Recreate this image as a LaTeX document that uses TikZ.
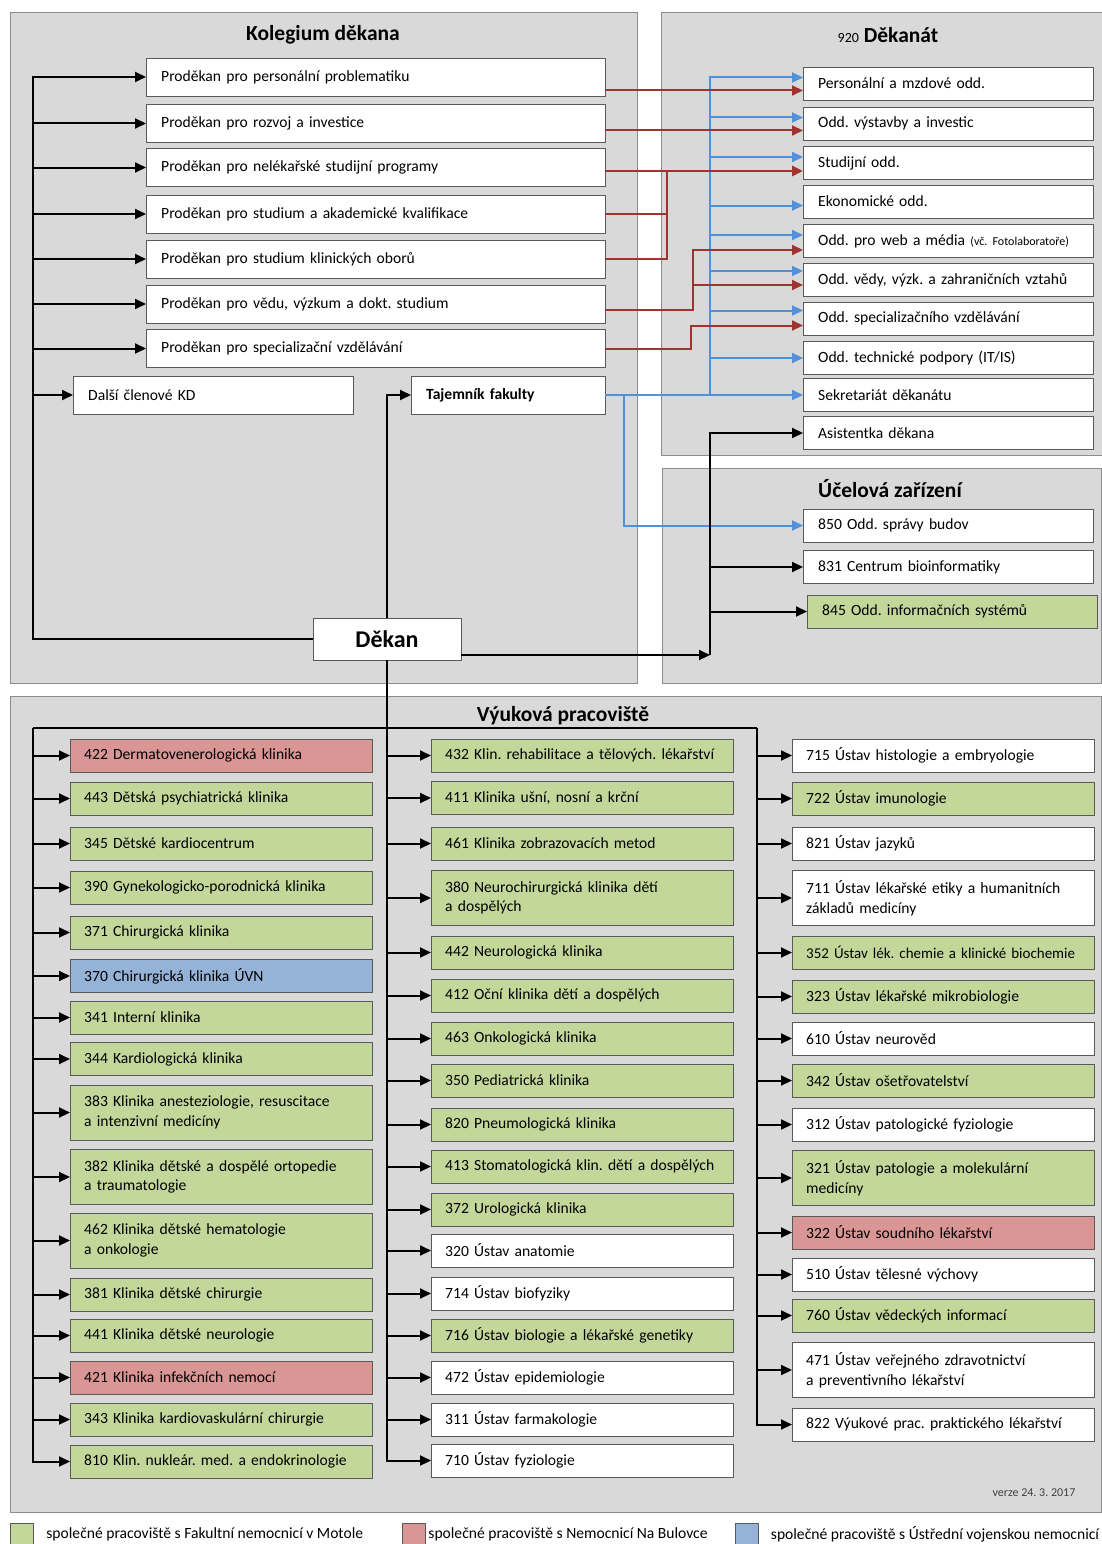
\documentclass[tikz,border=0pt]{standalone}
\usepackage{fontspec}
\setmainfont{Carlito}
\frenchspacing
\usetikzlibrary{arrows.meta,positioning,calc}
\definecolor{panelgray}{HTML}{D9D9D9}
\definecolor{panelline}{HTML}{8C8C8C}
\definecolor{boxline}{HTML}{595959}
\definecolor{motol}{HTML}{C4D79B}
\definecolor{bulovka}{HTML}{DA9694}
\definecolor{uvn}{HTML}{95B3D7}
\definecolor{redlink}{HTML}{9E3330}
\definecolor{bluelink}{HTML}{5390DB}
\tikzset{
  panel/.style={draw=panelline, fill=panelgray, line width=0.8pt},
  paneltitle/.style={font=\fontsize{21.5}{25}\selectfont\bfseries},
  leadbox/.style={
    draw=boxline,
    fill=white,
    anchor=west,
    minimum height=38pt,
    text width=429pt,
    inner xsep=15pt,
    align=left,
    font=\fontsize{15.6}{18}\selectfont
  },
  officebox/.style={
    draw=boxline,
    fill=white,
    anchor=west,
    minimum height=33pt,
    text width=260pt,
    inner xsep=15pt,
    align=left,
    font=\fontsize{15.6}{18}\selectfont
  },
  unitbox/.style={
    draw=boxline,
    fill=white,
    anchor=west,
    minimum height=33pt,
    text width=274pt,
    inner xsep=14pt,
    align=left,
    font=\fontsize{15.6}{19.5}\selectfont
  },
  twoline/.style={minimum height=55pt},
  deanbox/.style={
    draw=boxline,
    fill=white,
    minimum width=148pt,
    minimum height=42pt,
    font=\fontsize{24}{27}\selectfont\bfseries
  },
  legendkey/.style={draw=boxline, minimum width=23pt, minimum height=23pt, inner sep=0pt},
  legendtext/.style={inner xsep=0pt, anchor=west, font=\fontsize{15.6}{18}\selectfont},
  busline/.style={line width=2pt, draw=black},
  flowarrow/.style={-{Triangle[length=11pt,width=10pt]}, line width=2pt, draw=black},
  redline/.style={line width=2pt, draw=redlink},
  redarrow/.style={-{Triangle[length=11pt,width=10pt]}, line width=2pt, draw=redlink},
  bluearrow/.style={-{Triangle[length=11pt,width=10pt]}, line width=2pt, draw=bluelink}
}

\begin{document}
\begin{tikzpicture}[x=1pt, y=-1pt]
\useasboundingbox (0,0) rectangle (1102,1544);
\fill[white] (0,0) rectangle (1102,1544);

% panels
\draw[panel] (10,12) rectangle (637,683);
\draw[panel] (661,12) rectangle (1112,455);
\draw[panel] (662,468) rectangle (1101,683);
\draw[panel] (10,696) rectangle (1101,1512);
\node[paneltitle] (kolegium) at (323,35) {Kolegium děkana};
\node[paneltitle] (dekanat) at (888,35) {{\fontsize{14}{16}\selectfont\mdseries 920} Děkanát};
\node[paneltitle] (ucelova) at (890,489) {Účelová zařízení};
\node[paneltitle] (vyukova) at (563,716) {Výuková pracoviště};

% kolegium
\node[leadbox] (personal) at (146,77) {Proděkan pro personální problematiku};
\node[leadbox] (rozvoj) at (146,123.5) {Proděkan pro rozvoj a investice};
\node[leadbox] (nelek) at (146,167.5) {Proděkan pro nelékařské studijní programy};
\node[leadbox] (akad) at (146,214) {Proděkan pro studium a akademické kvalifikace};
\node[leadbox] (klinobor) at (146,259) {Proděkan pro studium klinických oborů};
\node[leadbox] (veda) at (146,304) {Proděkan pro vědu, výzkum a dokt. studium};
\node[leadbox] (specvzd) at (146,348.5) {Proděkan pro specializační vzdělávání};
\node[leadbox, text width=250pt] (dalsi) at (73,395) {Další členové KD};
\node[leadbox, text width=164pt, font=\fontsize{15.6}{18}\selectfont\bfseries] (tajemnik) at (411,395) {Tajemník fakulty};
\node[deanbox] (dekan) at (387,639) {Děkan};

% dekanat
\node[officebox] (pers) at (803,83.5) {Personální a mzdové odd.};
\node[officebox] (vystavba) at (803,123.5) {Odd. výstavby a investic};
\node[officebox] (studodd) at (803,163) {Studijní odd.};
\node[officebox] (ekonom) at (803,201.5) {Ekonomické odd.};
\node[officebox] (web) at (803,241) {Odd. pro web a média {\fontsize{12}{14}\selectfont(vč. Fotolaboratoře)}};
\node[officebox] (vedy) at (803,280) {Odd. vědy, výzk. a zahraničních vztahů};
\node[officebox] (specodd) at (803,318.5) {Odd. specializačního vzdělávání};
\node[officebox] (tech) at (803,358) {Odd. technické podpory (IT/IS)};
\node[officebox] (sekr) at (803,395) {Sekretariát děkanátu};
\node[officebox] (asist) at (803,433) {Asistentka děkana};

% ucelova zarizeni
\node[officebox] (budovy) at (803,525.5) {850 Odd. správy budov};
\node[officebox] (bioinf) at (803,567) {831 Centrum bioinformatiky};
\node[officebox, fill=motol] (infosys) at (807,611.5) {845 Odd. informačních systémů};

% vyukova pracoviste, prvni sloupec
\node[unitbox, fill=bulovka] (k422) at (70,755.5) {422 Dermatovenerologická klinika};
\node[unitbox, fill=motol] (k443) at (70,798.5) {443 Dětská psychiatrická klinika};
\node[unitbox, fill=motol] (k345) at (70,843.5) {345 Dětské kardiocentrum};
\node[unitbox, fill=motol] (k390) at (70,887.5) {390 Gynekologicko-porodnická klinika};
\node[unitbox, fill=motol] (k371) at (70,932.5) {371 Chirurgická klinika};
\node[unitbox, fill=uvn] (k370) at (70,976) {370 Chirurgická klinika ÚVN};
\node[unitbox, fill=motol] (k341) at (70,1017.5) {341 Interní klinika};
\node[unitbox, fill=motol] (k344) at (70,1059) {344 Kardiologická klinika};
\node[unitbox, twoline, fill=motol] (k383) at (70,1112.5) {383 Klinika anesteziologie, resuscitace\\a intenzivní medicíny};
\node[unitbox, twoline, fill=motol] (k382) at (70,1177) {382 Klinika dětské a dospělé ortopedie\\a traumatologie};
\node[unitbox, twoline, fill=motol] (k462) at (70,1240.5) {462 Klinika dětské hematologie\\a onkologie};
\node[unitbox, fill=motol] (k381) at (70,1294.5) {381 Klinika dětské chirurgie};
\node[unitbox, fill=motol] (k441) at (70,1335.5) {441 Klinika dětské neurologie};
\node[unitbox, fill=bulovka] (k421) at (70,1377.5) {421 Klinika infekčních nemocí};
\node[unitbox, fill=motol] (k343) at (70,1419.5) {343 Klinika kardiovaskulární chirurgie};
\node[unitbox, fill=motol] (k810) at (70,1461.5) {810 Klin. nukleár. med. a endokrinologie};

% druhy sloupec
\node[unitbox, fill=motol] (k432) at (431,755.5) {432 Klin. rehabilitace a tělových. lékařství};
\node[unitbox, fill=motol] (k411) at (431,798) {411 Klinika ušní, nosní a krční};
\node[unitbox, fill=motol] (k461) at (431,843.5) {461 Klinika zobrazovacích metod};
\node[unitbox, twoline, fill=motol] (k380) at (431,898) {380 Neurochirurgická klinika dětí\\a dospělých};
\node[unitbox, fill=motol] (k442) at (431,952.5) {442 Neurologická klinika};
\node[unitbox, fill=motol] (k412) at (431,995.5) {412 Oční klinika dětí a dospělých};
\node[unitbox, fill=motol] (k463) at (431,1038.5) {463 Onkologická klinika};
\node[unitbox, fill=motol] (k350) at (431,1080.5) {350 Pediatrická klinika};
\node[unitbox, fill=motol] (k820) at (431,1124.5) {820 Pneumologická klinika};
\node[unitbox, fill=motol] (k413) at (431,1166.5) {413 Stomatologická klin. dětí a dospělých};
\node[unitbox, fill=motol] (k372) at (431,1209.5) {372 Urologická klinika};
\node[unitbox] (u320) at (431,1250.5) {320 Ústav anatomie};
\node[unitbox] (u714) at (431,1293.5) {714 Ústav biofyziky};
\node[unitbox, fill=motol] (u716) at (431,1335.5) {716 Ústav biologie a lékařské genetiky};
\node[unitbox] (u472) at (431,1377.5) {472 Ústav epidemiologie};
\node[unitbox] (u311) at (431,1419.5) {311 Ústav farmakologie};
\node[unitbox] (u710) at (431,1460.5) {710 Ústav fyziologie};

% treti sloupec
\node[unitbox] (u715) at (792,755.5) {715 Ústav histologie a embryologie};
\node[unitbox, fill=motol] (u722) at (792,798.5) {722 Ústav imunologie};
\node[unitbox] (u821) at (792,843.5) {821 Ústav jazyků};
\node[unitbox, twoline] (u711) at (792,898) {711 Ústav lékařské etiky a humanitních\\základů medicíny};
\node[unitbox, fill=motol, font=\fontsize{15}{19.5}\selectfont] (u352) at (792,952.5) {352 Ústav lék. chemie a klinické biochemie};
\node[unitbox, fill=motol] (u323) at (792,996.5) {323 Ústav lékařské mikrobiologie};
\node[unitbox] (u610) at (792,1038.5) {610 Ústav neurověd};
\node[unitbox, fill=motol] (u342) at (792,1080.5) {342 Ústav ošetřovatelství};
\node[unitbox] (u312) at (792,1124.5) {312 Ústav patologické fyziologie};
\node[unitbox, twoline, fill=motol] (u321) at (792,1178) {321 Ústav patologie a molekulární\\medicíny};
\node[unitbox, fill=bulovka] (u322) at (792,1232.5) {322 Ústav soudního lékařství};
\node[unitbox] (u510) at (792,1274.5) {510 Ústav tělesné výchovy};
\node[unitbox, fill=motol] (u760) at (792,1315.5) {760 Ústav vědeckých informací};
\node[unitbox, twoline] (u471) at (792,1370) {471 Ústav veřejného zdravotnictví\\a preventivního lékařství};
\node[unitbox] (u822) at (792,1424.5) {822 Výukové prac. praktického lékařství};

% bus points
\coordinate (lbus) at (33,639);
\coordinate (bbus) at (710,395);
\coordinate (ubus) at (710,655);
\coordinate (vl) at (33,728);
\coordinate (vr) at (757,728);
\coordinate (rjoin) at (667,171);
\coordinate (rjoin2) at (693,250);
\coordinate (rjoin3) at (691,325.5);
\coordinate (tajb) at ([xshift=19pt]tajemnik.east);
\coordinate (rPers) at ([yshift=-7pt]pers.west);
\coordinate (rVyst) at ([yshift=-7pt]vystavba.west);
\coordinate (rStud) at ([yshift=-8pt]studodd.west);
\coordinate (rWeb) at ([yshift=-9pt]web.west);
\coordinate (rVedy) at ([yshift=-5pt]vedy.west);
\coordinate (rSpec) at ([yshift=-7pt]specodd.west);
\coordinate (bPers) at ([yshift=6pt]pers.west);
\coordinate (bVyst) at ([yshift=6pt]vystavba.west);
\coordinate (bStud) at ([yshift=6pt]studodd.west);
\coordinate (bEkon) at ([yshift=-4pt]ekonom.west);
\coordinate (bWeb) at ([yshift=6pt]web.west);
\coordinate (bVedy) at ([yshift=9pt]vedy.west);
\coordinate (bSpec) at ([yshift=8pt]specodd.west);

% blue links
\draw[bluearrow] (bbus) |- (bPers);
\draw[bluearrow] (bbus |- bVyst) -- (bVyst);
\draw[bluearrow] (bbus |- bStud) -- (bStud);
\draw[bluearrow] (bbus |- bEkon) -- (bEkon);
\draw[bluearrow] (bbus |- bWeb) -- (bWeb);
\draw[bluearrow] (bbus |- bVedy) -- (bVedy);
\draw[bluearrow] (bbus |- bSpec) -- (bSpec);
\draw[bluearrow] (bbus |- tech.west) -- (tech.west);
\draw[bluearrow] (tajemnik.east) -- (sekr.west);
\draw[bluearrow] (tajb) |- (budovy.west);

% red links
\draw[redarrow] (personal.east |- rPers) -- (rPers);
\draw[redarrow] (rozvoj.east |- rVyst) -- (rVyst);
\draw[redarrow, line width=2.8pt] (nelek.east |- rStud) -- (rStud);
\draw[redline] (akad.east) -| (rjoin);
\draw[redline] (klinobor.east) -| (rjoin);
\draw[redarrow] ([yshift=-6pt]veda.east) -| (rjoin2) -- (rWeb);
\draw[redarrow] (rjoin2 |- rVedy) -- (rVedy);
\draw[redarrow] (specvzd.east) -| (rjoin3) -- (rSpec);

% black links, kolegium
\draw[flowarrow] (dekan.west) -- (lbus) |- (personal.west);
\draw[flowarrow] (lbus |- rozvoj.west) -- (rozvoj.west);
\draw[flowarrow] (lbus |- nelek.west) -- (nelek.west);
\draw[flowarrow] (lbus |- akad.west) -- (akad.west);
\draw[flowarrow] (lbus |- klinobor.west) -- (klinobor.west);
\draw[flowarrow] (lbus |- veda.west) -- (veda.west);
\draw[flowarrow] (lbus |- specvzd.west) -- (specvzd.west);
\draw[flowarrow] (lbus |- dalsi.west) -- (dalsi.west);
\draw[flowarrow] (dekan.north) |- (tajemnik.west);

% black links, dekanat and ucelova
\draw[flowarrow] ([yshift=-16pt]dekan.east) -- (ubus);
\draw[flowarrow] (ubus) |- (asist.west);
\draw[flowarrow] (ubus |- bioinf.west) -- (bioinf.west);
\draw[flowarrow] (ubus |- infosys.west) -- (infosys.west);

% black links, vyukova
\draw[busline] (vl) -- (vr);
\draw[flowarrow] (vl) |- (k810.west);
\draw[flowarrow] (dekan.south) |- (u710.west);
\draw[flowarrow] (vr) |- (u822.west);
\draw[flowarrow] (vl |- k422.west) -- (k422.west);
\draw[flowarrow] (vl |- k443.west) -- (k443.west);
\draw[flowarrow] (vl |- k345.west) -- (k345.west);
\draw[flowarrow] (vl |- k390.west) -- (k390.west);
\draw[flowarrow] (vl |- k371.west) -- (k371.west);
\draw[flowarrow] (vl |- k370.west) -- (k370.west);
\draw[flowarrow] (vl |- k341.west) -- (k341.west);
\draw[flowarrow] (vl |- k344.west) -- (k344.west);
\draw[flowarrow] (vl |- k383.west) -- (k383.west);
\draw[flowarrow] (vl |- k382.west) -- (k382.west);
\draw[flowarrow] (vl |- k462.west) -- (k462.west);
\draw[flowarrow] (vl |- k381.west) -- (k381.west);
\draw[flowarrow] (vl |- k441.west) -- (k441.west);
\draw[flowarrow] (vl |- k421.west) -- (k421.west);
\draw[flowarrow] (vl |- k343.west) -- (k343.west);
\draw[flowarrow] (dekan.south |- k432.west) -- (k432.west);
\draw[flowarrow] (dekan.south |- k411.west) -- (k411.west);
\draw[flowarrow] (dekan.south |- k461.west) -- (k461.west);
\draw[flowarrow] (dekan.south |- k380.west) -- (k380.west);
\draw[flowarrow] (dekan.south |- k442.west) -- (k442.west);
\draw[flowarrow] (dekan.south |- k412.west) -- (k412.west);
\draw[flowarrow] (dekan.south |- k463.west) -- (k463.west);
\draw[flowarrow] (dekan.south |- k350.west) -- (k350.west);
\draw[flowarrow] (dekan.south |- k820.west) -- (k820.west);
\draw[flowarrow] (dekan.south |- k413.west) -- (k413.west);
\draw[flowarrow] (dekan.south |- k372.west) -- (k372.west);
\draw[flowarrow] (dekan.south |- u320.west) -- (u320.west);
\draw[flowarrow] (dekan.south |- u714.west) -- (u714.west);
\draw[flowarrow] (dekan.south |- u716.west) -- (u716.west);
\draw[flowarrow] (dekan.south |- u472.west) -- (u472.west);
\draw[flowarrow] (dekan.south |- u311.west) -- (u311.west);
\draw[flowarrow] (vr |- u715.west) -- (u715.west);
\draw[flowarrow] (vr |- u722.west) -- (u722.west);
\draw[flowarrow] (vr |- u821.west) -- (u821.west);
\draw[flowarrow] (vr |- u711.west) -- (u711.west);
\draw[flowarrow] (vr |- u352.west) -- (u352.west);
\draw[flowarrow] (vr |- u323.west) -- (u323.west);
\draw[flowarrow] (vr |- u610.west) -- (u610.west);
\draw[flowarrow] (vr |- u342.west) -- (u342.west);
\draw[flowarrow] (vr |- u312.west) -- (u312.west);
\draw[flowarrow] (vr |- u321.west) -- (u321.west);
\draw[flowarrow] (vr |- u322.west) -- (u322.west);
\draw[flowarrow] (vr |- u510.west) -- (u510.west);
\draw[flowarrow] (vr |- u760.west) -- (u760.west);
\draw[flowarrow] (vr |- u471.west) -- (u471.west);

\node[font=\fontsize{12}{14}\selectfont, text=black!75] (verze) at (1034,1493) {verze 24. 3. 2017};

% legend
\node[legendkey, fill=motol] (keymotol) at (21.5,1534.5) {};
\node[legendtext, right=13pt of keymotol] (txtmotol) {společné pracoviště s Fakultní nemocnicí v Motole};
\node[legendkey, fill=bulovka] (keybulovka) at (413.5,1534.5) {};
\node[legendtext, right=3pt of keybulovka] (txtbulovka) {společné pracoviště s Nemocnicí Na Bulovce};
\node[legendkey, fill=uvn] (keyuvn) at (747,1534.5) {};
\node[legendtext, right=12pt of keyuvn] (txtuvn) {společné pracoviště s Ústřední vojenskou nemocnicí};
\end{tikzpicture}
\end{document}
